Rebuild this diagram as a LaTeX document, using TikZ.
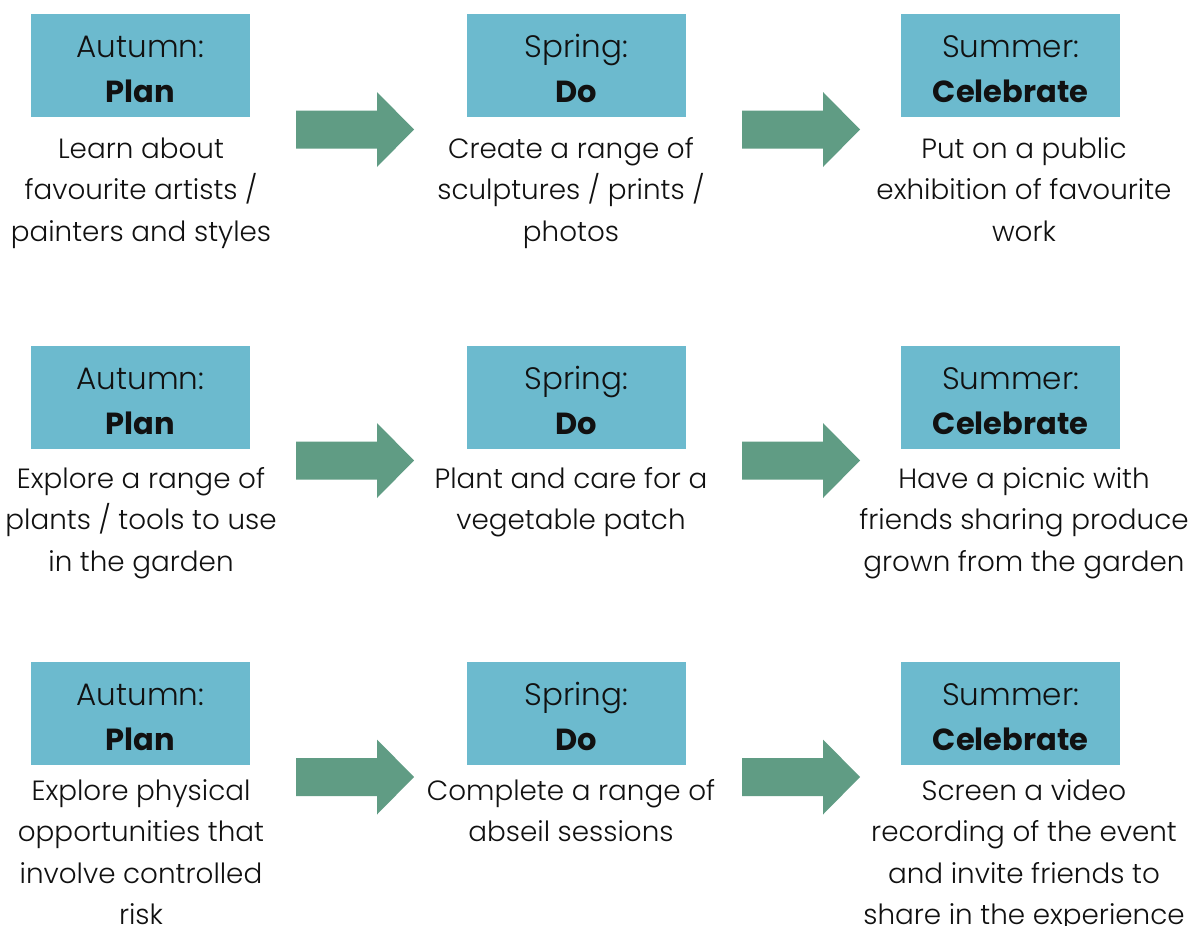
\documentclass[tikz,border=0pt]{standalone}
\usepackage{fontspec}
\IfFontExistsTF{Poppins Light}{%
  \setmainfont{Poppins}[UprightFont={* Light}, BoldFont={* Bold}]%
}{%
  \setmainfont{Poppins}%
}
\definecolor{seasonblue}{HTML}{6CBACE}
\definecolor{arrowgreen}{HTML}{609C84}
\definecolor{inktext}{HTML}{111111}

\tikzset{
  x=1pt, y=-1pt,
  seasonbox/.style={rectangle, fill=seasonblue, minimum width=219pt,
    minimum height=103pt, inner sep=0pt},
  seasontext/.style={inner sep=0pt, text=inktext, font=\fontsize{31}{36}\selectfont},
  phasetext/.style={inner sep=0pt, text=inktext, font=\fontsize{30.5}{36}\selectfont\bfseries},
  bodytext/.style={inner sep=0pt, text=inktext, align=center,
    font=\fontsize{27.8}{41.5}\selectfont},
  stagearrow/.pic={
    \fill[arrowgreen] (0,-19) -- (81,-19) -- (81,-37.5) -- (118,0)
      -- (81,37.5) -- (81,19) -- (0,19) -- cycle;
  }
}

% #1 name, #2 box centre x, #3 box top y, #4 season, #5 phase,
% #6 body centre x, #7 body first baseline y, #8 number of body lines,
% #9 body lines (the node's base anchor sits on its last line)
\newcommand\stageblock[9]{%
  \node[seasonbox, anchor=north] (#1) at (#2,#3) {};
  \node[seasontext, anchor=base] (#1-season) at (#2,#3+43) {#4};
  \node[phasetext, anchor=base] (#1-phase) at (#2,#3+88) {#5};
  \node[bodytext, anchor=base] (#1-body) at (#6,{#7+(#8-1)*41.5}) {#9};
}

\begin{document}
\begin{tikzpicture}
  \fill[white] (0,0) rectangle (1195,926);
  \useasboundingbox (0,0) rectangle (1195,926);

  % art
  \stageblock{a1}{140.5}{14}{Autumn:}{Plan}{141}{158}{3}%
    {Learn about\\favourite artists /\\painters and styles}
  \stageblock{a2}{576.5}{14}{Spring:}{Do}{571}{158}{3}%
    {Create a range of\\sculptures / prints /\\photos}
  \stageblock{a3}{1010.5}{14}{Summer:}{Celebrate}{1024}{158}{3}%
    {Put on a public\\exhibition of favourite\\work}
  \pic (a12) at (296,129.5) {stagearrow};
  \pic (a23) at (742,129.5) {stagearrow};

  % garden
  \stageblock{g1}{140.5}{346}{Autumn:}{Plan}{141}{488}{3}%
    {Explore a range of\\plants / tools to use\\in the garden}
  \stageblock{g2}{576.5}{346}{Spring:}{Do}{571}{488}{2}%
    {Plant and care for a\\vegetable patch}
  \stageblock{g3}{1010.5}{346}{Summer:}{Celebrate}{1024}{488}{3}%
    {Have a picnic with\\friends sharing produce\\grown from the garden}
  \pic (g12) at (296,460.5) {stagearrow};
  \pic (g23) at (742,460.5) {stagearrow};

  % abseiling
  \stageblock{s1}{140.5}{662}{Autumn:}{Plan}{141}{800}{4}%
    {Explore physical\\opportunities that\\involve controlled\\risk}
  \stageblock{s2}{576.5}{662}{Spring:}{Do}{571}{800}{2}%
    {Complete a range of\\abseil sessions}
  \stageblock{s3}{1010.5}{662}{Summer:}{Celebrate}{1024}{800}{4}%
    {Screen a video\\recording of the event\\and invite friends to\\share in the experience}
  \pic (s12) at (296,777) {stagearrow};
  \pic (s23) at (742,777) {stagearrow};
\end{tikzpicture}
\end{document}
